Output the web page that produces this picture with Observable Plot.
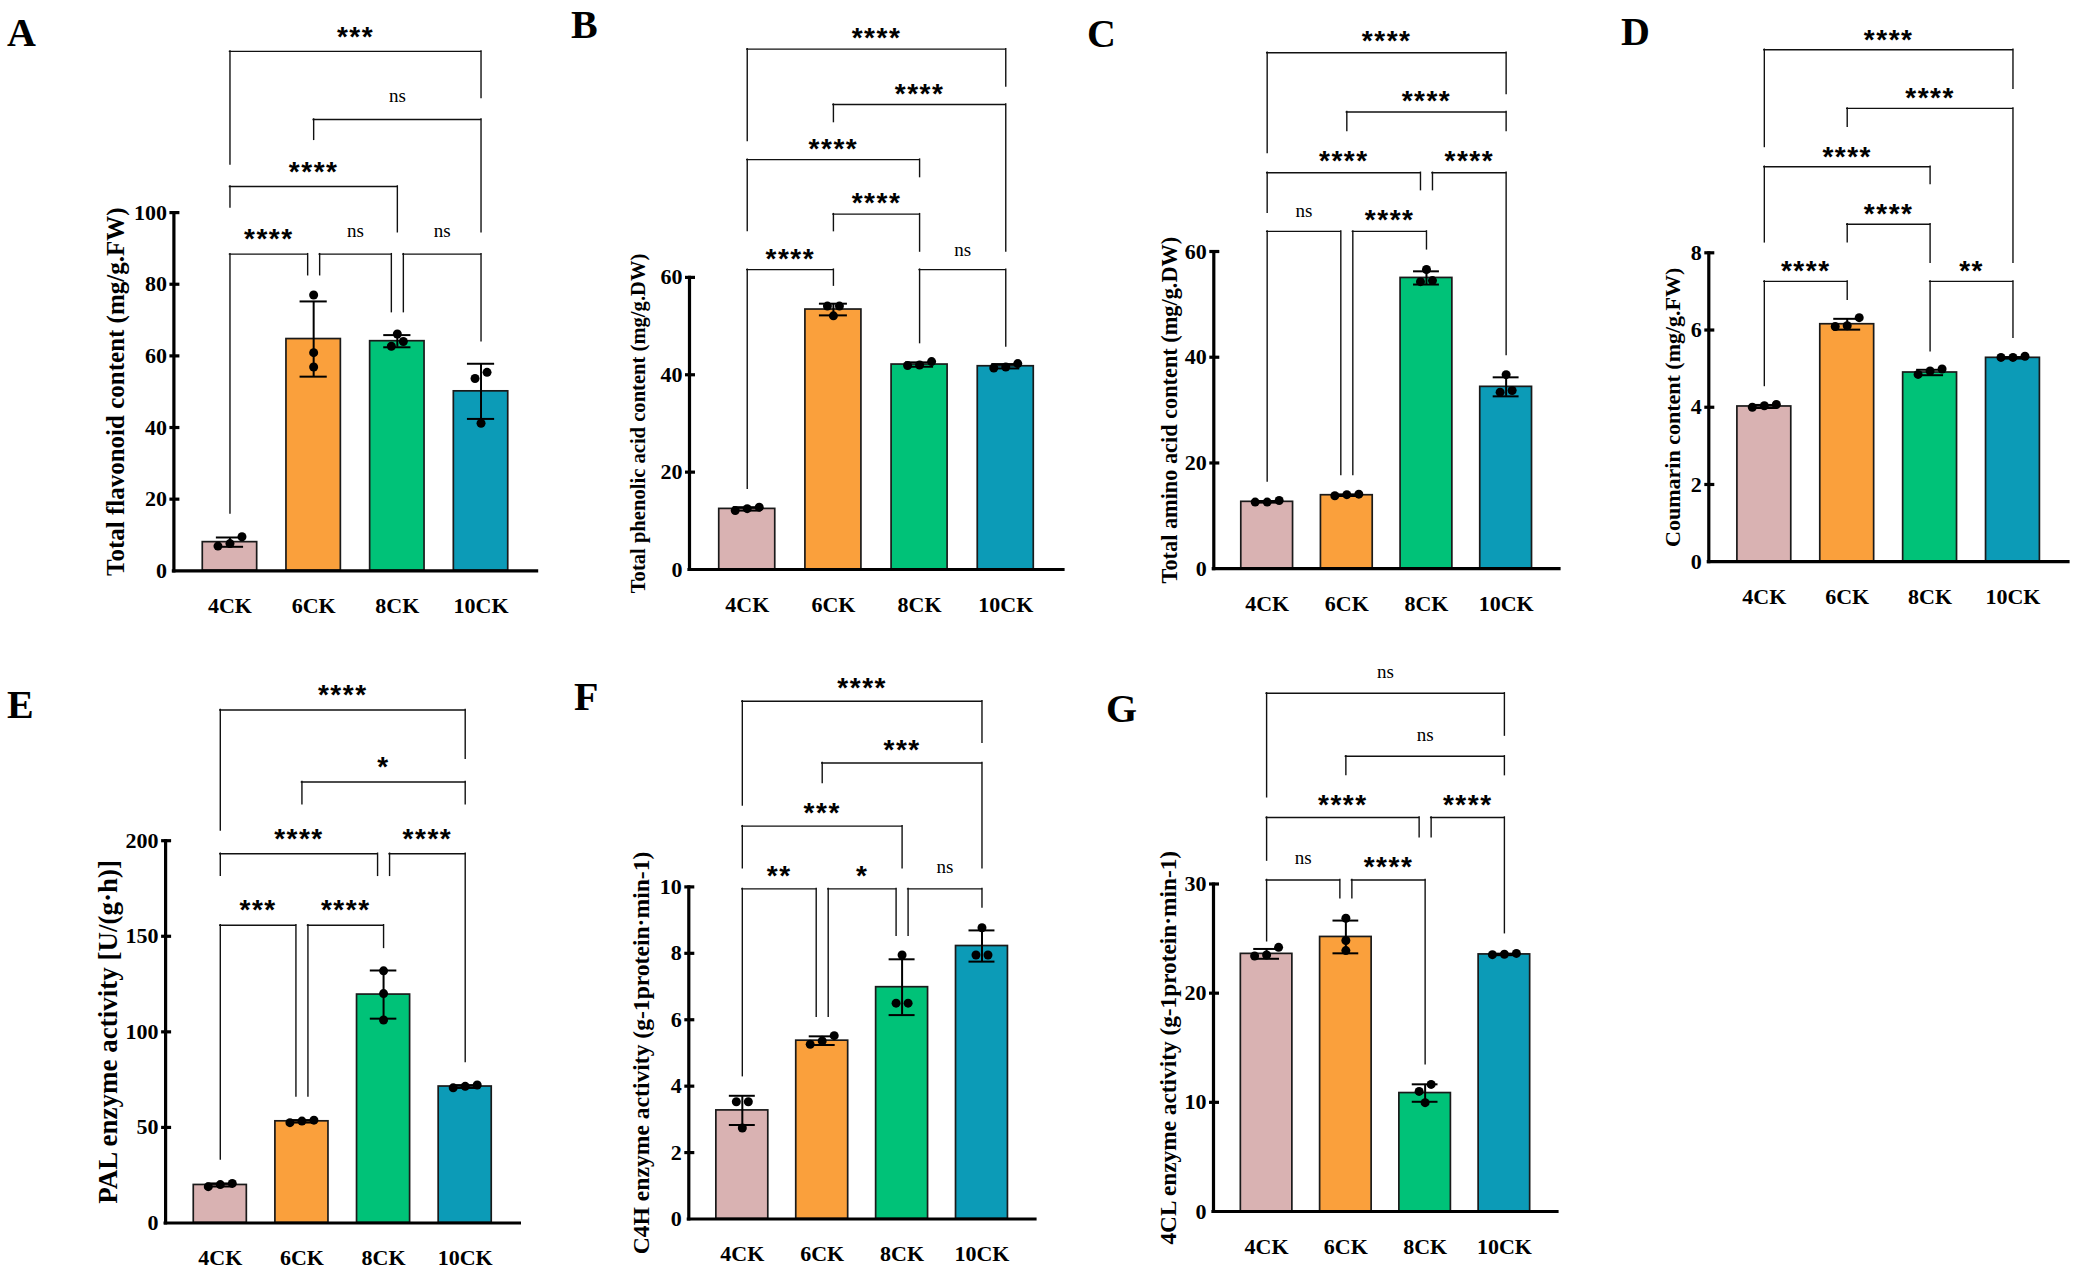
<!DOCTYPE html>
<html><head><meta charset="utf-8">
<script src="https://cdn.jsdelivr.net/npm/d3@7"></script>
<script src="https://cdn.jsdelivr.net/npm/@observablehq/plot@0.6"></script>
<style>
html,body{margin:0;padding:0;background:#fff;}
#fig{position:relative;width:2076px;height:1271px;overflow:hidden;background:#fff;}
.panel{position:absolute;}
.panel svg{overflow:visible;background:transparent;}
.letter{position:absolute;font-family:"Liberation Serif","Times New Roman",serif;font-weight:bold;font-size:40px;line-height:40px;color:#000;}
</style></head><body><div id="fig"></div>
<script>
// ---------- data ----------
const groups = ["4CK", "6CK", "8CK", "10CK"];
const groupColors = ["#D9B2B2", "#FAA03C", "#00C278", "#0C9BB7"];

// A  Total flavonoid content
const flavMean = [8.0, 64.7, 64.1, 50.1];
const flavSD = [1.3, 10.5, 1.7, 7.7];
const flavPoints = [[9.5, 6.9, 7.6], [77.0, 60.9, 56.9], [64.0, 66.1, 62.7], [41.2, 53.7, 55.4]];
const flavTicks = [0, 20, 40, 60, 80, 100];
const flavBrackets = [
  ["4CK", "6CK", 88.4, 16.0, 82.5, "****"],
  ["6CK", "8CK", 88.4, 82.5, 72.2, "ns"],
  ["8CK", "10CK", 88.4, 72.2, 64.1, "ns"],
  ["4CK", "8CK", 107.3, 101.4, 94.5, "****"],
  ["6CK", "10CK", 126.0, 120.3, 94.5, "ns"],
  ["4CK", "10CK", 145.0, 113.4, 132.0, "***"]
];

// B  Total phenolic acid content
const phenMean = [12.45, 53.4, 42.1, 41.75];
const phenSD = [0.35, 1.2, 0.45, 0.45];
const phenPoints = [[12.8, 12.1, 12.5], [52.1, 54.1, 54.1], [42.7, 41.9, 42.0], [42.3, 41.4, 41.6]];
const phenTicks = [0, 20, 40, 60];
const phenBrackets = [
  ["4CK", "6CK", 61.6, 16.6, 58.3, "****"],
  ["8CK", "10CK", 61.6, 46.5, 45.8, "ns"],
  ["6CK", "8CK", 73.0, 69.5, 65.3, "****"],
  ["4CK", "8CK", 84.2, 69.5, 80.6, "****"],
  ["6CK", "10CK", 95.5, 91.9, 65.3, "****"],
  ["4CK", "10CK", 106.9, 88.0, 99.2, "****"]
];

// C  Total amino acid content
const aminoMean = [12.65, 13.9, 55.0, 34.4];
const aminoSD = [0.15, 0.15, 1.25, 1.8];
const aminoPoints = [[12.9, 12.6, 12.6], [14.1, 13.8, 14.0], [56.6, 54.5, 54.3], [36.7, 33.4, 33.7]];
const aminoTicks = [0, 20, 40, 60];
const aminoBrackets = [
  ["4CK", "6CK", 63.8, 16.5, 17.7, "ns"],
  ["6CK", "8CK", 63.8, 17.7, 60.4, "****"],
  ["4CK", "8CK", 74.9, 67.3, 71.6, "****"],
  ["8CK", "10CK", 74.9, 71.6, 40.4, "****"],
  ["6CK", "10CK", 86.4, 82.8, 82.8, "****"],
  ["4CK", "10CK", 97.6, 78.6, 89.8, "****"]
];

// D  Coumarin content
const coumMean = [4.02, 6.15, 4.90, 5.28];
const coumSD = [0.04, 0.14, 0.07, 0.02];
const coumPoints = [[4.0, 4.07, 4.04], [6.32, 6.09, 6.11], [4.85, 4.99, 4.94], [5.29, 5.32, 5.29]];
const coumTicks = [0, 2, 4, 6, 8];
const coumBrackets = [
  ["4CK", "6CK", 7.26, 4.55, 6.78, "****"],
  ["8CK", "10CK", 7.26, 5.45, 5.80, "**"],
  ["6CK", "8CK", 8.74, 8.27, 7.74, "****"],
  ["4CK", "8CK", 10.23, 8.27, 9.78, "****"],
  ["6CK", "10CK", 11.74, 11.26, 7.74, "****"],
  ["4CK", "10CK", 13.26, 10.74, 12.25, "****"]
];

// E  PAL enzyme activity
const palMean = [19.9, 53.2, 119.5, 71.4];
const palSD = [0.8, 0.65, 12.6, 0.75];
const palPoints = [[19.0, 20.7, 20.1], [52.5, 53.8, 53.3], [131.9, 120.0, 106.2], [70.7, 72.2, 71.5]];
const palTicks = [0, 50, 100, 150, 200];
const palBrackets = [
  ["4CK", "6CK", 155.8, 33.2, 66.2, "***"],
  ["6CK", "8CK", 155.8, 66.2, 143.9, "****"],
  ["4CK", "8CK", 193.2, 181.6, 181.6, "****"],
  ["8CK", "10CK", 193.2, 181.6, 84.2, "****"],
  ["6CK", "10CK", 230.7, 219.0, 219.0, "*"],
  ["4CK", "10CK", 268.4, 205.3, 242.8, "****"]
];

// F  C4H enzyme activity
const c4hMean = [3.27, 5.37, 6.98, 8.22];
const c4hSD = [0.44, 0.13, 0.84, 0.47];
const c4hPoints = [[3.53, 3.53, 2.74], [5.52, 5.26, 5.36], [7.95, 6.50, 6.50], [8.77, 7.95, 7.95]];
const c4hTicks = [0, 2, 4, 6, 8, 10];
const c4hBrackets = [
  ["4CK", "6CK", 9.94, 4.30, 6.09, "**"],
  ["6CK", "8CK", 9.94, 6.09, 8.53, "*"],
  ["8CK", "10CK", 9.94, 8.53, 9.38, "ns"],
  ["4CK", "8CK", 11.83, 10.56, 10.56, "***"],
  ["6CK", "10CK", 13.73, 13.13, 10.56, "***"],
  ["4CK", "10CK", 15.59, 12.45, 14.34, "****"]
];

// G  4CL enzyme activity
const c4lMean = [23.6, 25.15, 10.85, 23.55];
const c4lSD = [0.45, 1.5, 0.8, 0.07];
const c4lPoints = [[24.2, 23.4, 23.5], [26.86, 24.82, 23.9], [11.64, 11.0, 9.97], [23.57, 23.64, 23.53]];
const c4lTicks = [0, 10, 20, 30];
const c4lBrackets = [
  ["4CK", "6CK", 30.37, 24.75, 28.7, "ns"],
  ["6CK", "8CK", 30.37, 28.7, 13.48, "****"],
  ["4CK", "8CK", 36.09, 32.14, 34.28, "****"],
  ["8CK", "10CK", 36.09, 34.28, 25.49, "****"],
  ["6CK", "10CK", 41.7, 39.97, 39.97, "ns"],
  ["4CK", "10CK", 47.47, 37.94, 43.59, "ns"]
];

// ---------- layout ----------
const panels = [
  {letter: "A", lx: 7, ly: 33, left: 0, top: 0, width: 560, height: 640, ml: 173.4, mr: 23.4, mt: 212.1, mb: 69.7, yTop: 100,
   ticks: flavTicks, mean: flavMean, sd: flavSD, pts: flavPoints, br: flavBrackets,
   label: "Total flavonoid content (mg/g.FW)", labelSize: 25, labelOffset: 57.5, gap: 22},
  {letter: "B", lx: 571, ly: 25, left: 560, top: 0, width: 520, height: 640, ml: 129, mr: 17, mt: 276.9, mb: 71, yTop: 60,
   ticks: phenTicks, mean: phenMean, sd: phenSD, pts: phenPoints, br: phenBrackets,
   label: "Total phenolic acid content (mg/g.DW)", labelSize: 20.6, labelOffset: 51, gap: 18},
  {letter: "C", lx: 1087, ly: 34, left: 1080, top: 0, width: 520, height: 640, ml: 133.3, mr: 41, mt: 251, mb: 71.8, yTop: 60,
   ticks: aminoTicks, mean: aminoMean, sd: aminoSD, pts: aminoPoints, br: aminoBrackets,
   label: "Total amino acid content (mg/g.DW)", labelSize: 22.3, labelOffset: 44, gap: 18.5},
  {letter: "D", lx: 1621, ly: 32, left: 1600, top: 0, width: 476, height: 640, ml: 108.3, mr: 8, mt: 252.3, mb: 78.8, yTop: 8,
   ticks: coumTicks, mean: coumMean, sd: coumSD, pts: coumPoints, br: coumBrackets,
   label: "Coumarin content (mg/g.FW)", labelSize: 22, labelOffset: 36, gap: 17},
  {letter: "E", lx: 7, ly: 705, left: 0, top: 640, width: 560, height: 631, ml: 165.1, mr: 40.6, mt: 200.2, mb: 48.5, yTop: 200,
   ticks: palTicks, mean: palMean, sd: palSD, pts: palPoints, br: palBrackets,
   label: "PAL enzyme activity [U/(g·h)]", labelSize: 27, labelOffset: 57, gap: 22},
  {letter: "F", lx: 574, ly: 697, left: 560, top: 640, width: 520, height: 631, ml: 128.3, mr: 45, mt: 246.4, mb: 52.5, yTop: 10,
   ticks: c4hTicks, mean: c4hMean, sd: c4hSD, pts: c4hPoints, br: c4hBrackets,
   label: "C4H enzyme activity (g-1protein·min-1)", labelSize: 23.6, labelOffset: 47, gap: 20},
  {letter: "G", lx: 1106, ly: 709, left: 1080, top: 640, width: 520, height: 631, ml: 133, mr: 43, mt: 243.5, mb: 60, yTop: 30,
   ticks: c4lTicks, mean: c4lMean, sd: c4lSD, pts: c4lPoints, br: c4lBrackets,
   label: "4CL enzyme activity (g-1protein·min-1)", labelSize: 23.3, labelOffset: 45, gap: 20}
];

const serif = '"Liberation Serif","Times New Roman",serif';
const sans = '"Liberation Sans",Arial,sans-serif';
const PI = 0.35, PO = 0.345;

function drawPanel(p) {
  const frameW = p.width - p.ml - p.mr;
  const frameH = p.height - p.mt - p.mb;
  const step = frameW / (groups.length - PI + 2 * PO);
  const bw = step * (1 - PI);
  const pxPerUnit = frameH / p.yTop;

  const rows = groups.map((g, i) => ({g, mean: p.mean[i], sd: p.sd[i]}));

  // horizontal spreading of overlapping replicate points
  const dotRows = [];
  groups.forEach((g, i) => {
    const vals = p.pts[i].slice().sort((a, b) => a - b);
    let k = 0;
    while (k < vals.length) {
      let j = k + 1;
      while (j < vals.length && (vals[j] - vals[k]) * pxPerUnit < 9.5) j++;
      const n = j - k;
      for (let m = k; m < j; m++) dotRows.push({g, v: vals[m], off: (m - k - (n - 1) / 2) * 12});
      k = j;
    }
  });
  const offs = Array.from(new Set(dotRows.map(d => d.off)));
  const dotMarks = offs.map(o => Plot.dot(dotRows.filter(d => d.off === o), {x: "g", y: "v", r: 4.5, fill: "#000", stroke: "none", dx: o}));

  const bracketMarks = [];
  p.br.forEach(b => {
    const sF = p.br.some(o => o !== b && o[2] === b[2] && o[1] === b[0]) ? 6 : 0;
    const sT = p.br.some(o => o !== b && o[2] === b[2] && o[0] === b[1]) ? -6 : 0;
    const span = groups.indexOf(b[1]) - groups.indexOf(b[0]);
    const isStars = b[5].includes("*");
    const lineStyle = {stroke: "#111", strokeWidth: 1.4, strokeLinecap: "square"};
    bracketMarks.push(
      Plot.ruleX([b], {x: d => d[0], y1: d => d[3], y2: d => d[2], dx: sF, ...lineStyle}),
      Plot.ruleX([b], {x: d => d[1], y1: d => d[4], y2: d => d[2], dx: sT, ...lineStyle}),
      Plot.ruleY([b], {x1: d => d[0], x2: d => d[1], y: d => d[2], insetLeft: bw / 2 + sF, insetRight: bw / 2 - sT, ...lineStyle}),
      Plot.text([b], {x: d => d[0], y: d => d[2], text: d => d[5], lineAnchor: "bottom",
        dx: span * step / 2 + (sF + sT) / 2,
        dy: isStars ? 16.1 - p.gap : 4.4 - p.gap,
        fontSize: isStars ? 28 : 19, fontFamily: isStars ? sans : serif, fontWeight: isStars ? "bold" : "normal", fill: "#000"})
    );
  });

  const plot = Plot.plot({
    width: p.width, height: p.height,
    marginLeft: p.ml, marginRight: p.mr, marginTop: p.mt, marginBottom: p.mb,
    x: {domain: groups, paddingInner: PI, paddingOuter: PO, round: false, axis: null},
    y: {domain: [0, p.yTop], axis: null},
    color: {domain: groups, range: groupColors},
    style: {background: "transparent", color: "#000", overflow: "visible"},
    marks: [
      Plot.barY(rows, {x: "g", y: "mean", fill: "g", stroke: "#1a1a1a", strokeWidth: 1.7}),
      Plot.ruleX(rows, {x: "g", y1: d => d.mean - d.sd, y2: d => d.mean + d.sd, stroke: "#000", strokeWidth: 2}),
      Plot.tickY(rows, {x: "g", y: d => d.mean + d.sd, inset: bw / 4, stroke: "#000", strokeWidth: 2}),
      Plot.tickY(rows, {x: "g", y: d => d.mean - d.sd, inset: bw / 4, stroke: "#000", strokeWidth: 2}),
      ...dotMarks,
      Plot.frame({anchor: "left", stroke: "#000", strokeWidth: 3.2, strokeLinecap: "square"}),
      Plot.ruleY([0], {stroke: "#000", strokeWidth: 3.2, strokeLinecap: "square"}),
      Plot.ruleY(p.ticks.filter(t => t > 0), {y: d => d, insetLeft: -4, insetRight: frameW - 6, stroke: "#000", strokeWidth: 3.2}),
      Plot.axisY(p.ticks, {tickSize: 0, tickPadding: 7, fontSize: 22, fontWeight: "bold", fontFamily: serif, label: null}),
      Plot.axisX({tickSize: 0, tickPadding: 26.7, fontSize: 22, fontWeight: "bold", fontFamily: serif, label: null}),
      Plot.text([p.label], {text: d => d, frameAnchor: "left", textAnchor: "middle", lineAnchor: "middle", rotate: -90, dx: -p.labelOffset,
        fontSize: p.labelSize, fontWeight: "bold", fontFamily: serif, fill: "#000"}),
      ...bracketMarks
    ]
  });

  d3.select(plot).selectAll("text").filter(function () { return /^\*+$/.test(this.textContent); })
    .attr("letter-spacing", "1.5px");

  const holder = document.createElement("div");
  holder.className = "panel";
  holder.style.left = p.left + "px";
  holder.style.top = p.top + "px";
  holder.style.width = p.width + "px";
  holder.style.height = p.height + "px";
  holder.appendChild(plot);
  document.getElementById("fig").appendChild(holder);

  const letter = document.createElement("div");
  letter.className = "letter";
  letter.textContent = p.letter;
  letter.style.left = p.lx + "px";
  letter.style.top = (p.ly - 20.3) + "px";
  document.getElementById("fig").appendChild(letter);
}

panels.forEach(drawPanel);
</script>
</body></html>
